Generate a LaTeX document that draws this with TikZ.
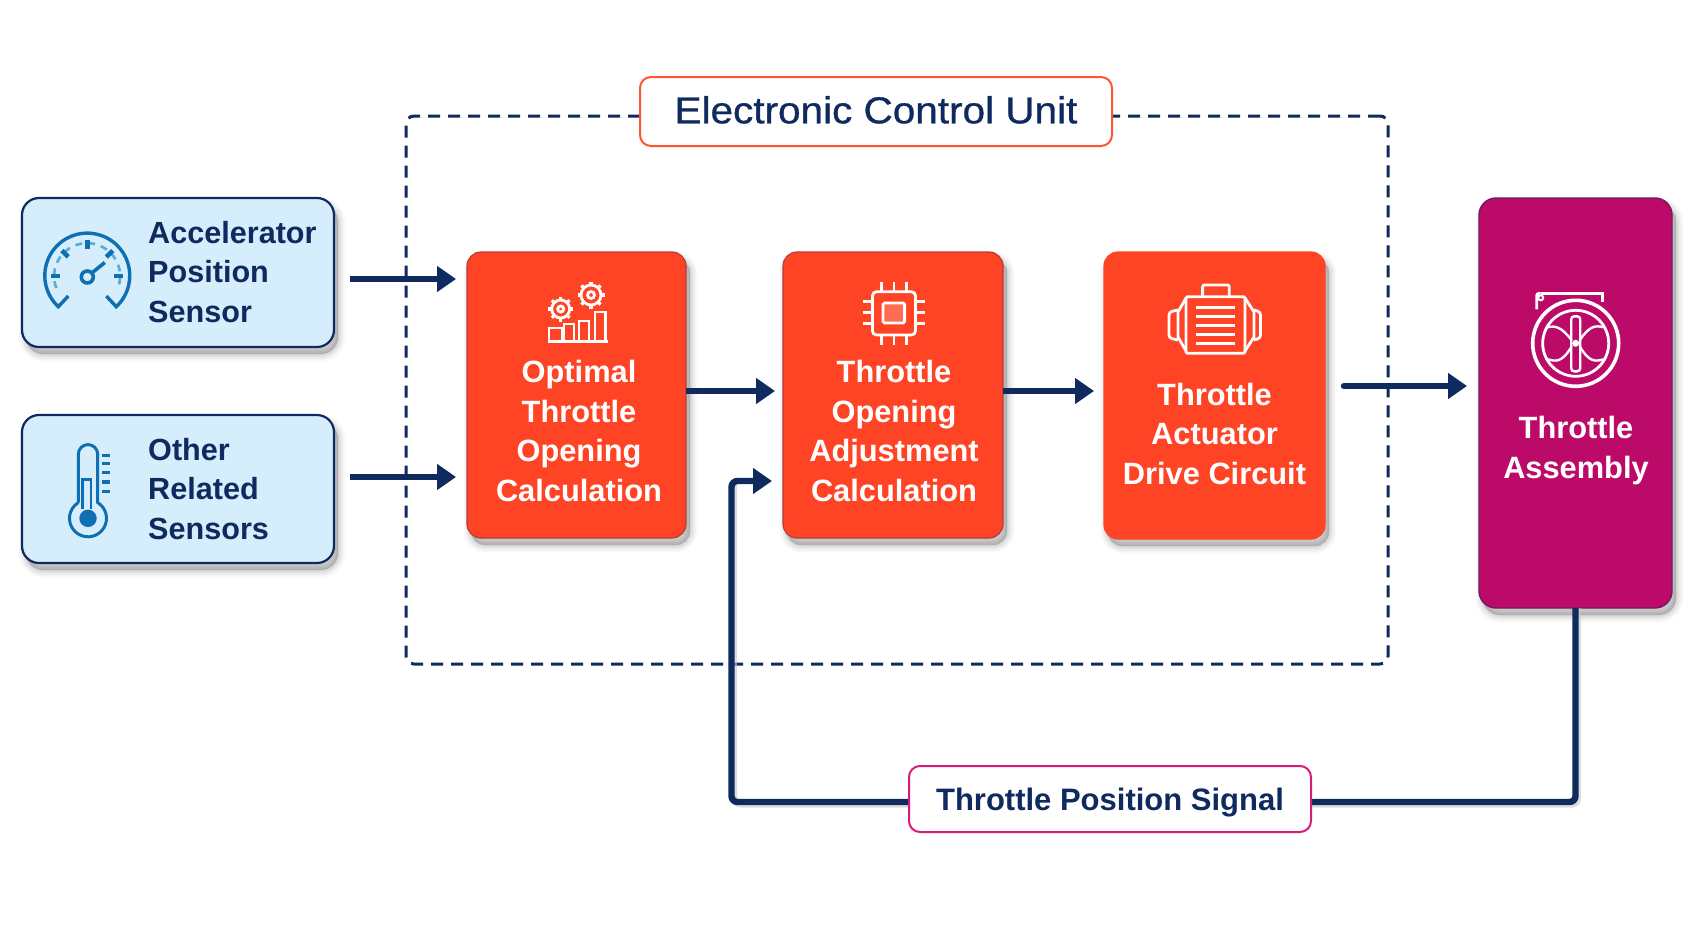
\documentclass[tikz,border=0pt]{standalone}
\usepackage{fontspec}
\setmainfont{Liberation Sans}
\newfontfamily\ecufont[FakeBold=0.8,FakeStretch=1.08]{Liberation Sans}
\usetikzlibrary{arrows.meta,shadows,calc}
\definecolor{navy}{HTML}{0F2A5F}
\definecolor{skyfill}{HTML}{D6EEFB}
\definecolor{iconblue}{HTML}{0E6FB2}
\definecolor{iconlight}{HTML}{5BAAD8}
\definecolor{redbox}{HTML}{FF4325}
\definecolor{magbox}{HTML}{BB0A68}
\definecolor{eculine}{HTML}{FF5533}
\definecolor{tpsline}{HTML}{D81B78}
\tikzset{
  softshadow/.style={
    general shadow={fill=black,draw=black,line width=15pt,opacity=.02,shadow xshift=4pt,shadow yshift=-7pt},
    general shadow={fill=black,draw=black,line width=12pt,opacity=.025,shadow xshift=4pt,shadow yshift=-7pt},
    general shadow={fill=black,draw=black,line width=9pt,opacity=.03,shadow xshift=4pt,shadow yshift=-7pt},
    general shadow={fill=black,draw=black,line width=6pt,opacity=.035,shadow xshift=4pt,shadow yshift=-7pt},
    general shadow={fill=black,draw=black,line width=3pt,opacity=.04,shadow xshift=4pt,shadow yshift=-7pt},
    general shadow={fill=black,draw=black,line width=.5pt,opacity=.04,shadow xshift=4pt,shadow yshift=-7pt}},
  boxbase/.style={rounded corners=#1,inner sep=0pt,outer sep=0pt,softshadow},
  sensorbox/.style={boxbase=17pt,fill=skyfill,draw=navy,line width=2.2pt},
  redblock/.style={boxbase=14pt,fill=redbox,draw=redbox!70!navy,line width=1.2pt},
  magblock/.style={boxbase=17pt,fill=magbox,draw=magbox!60!navy,line width=1.4pt},
  tagbox/.style={rounded corners=11pt,fill=white,line width=2pt,inner sep=0pt},
  conn/.style={draw=navy,line width=6.4pt,-{Triangle[length=19pt,width=25pt]}},
  sensortext/.style={font=\fontsize{30.6}{39.5}\selectfont\bfseries,text=navy,align=left,anchor=base west,inner sep=0pt},
  whitetext/.style={font=\fontsize{30.8}{39.5}\selectfont\bfseries,text=white,align=center,anchor=base,inner sep=0pt},
  iconb/.style={draw=iconblue,line width=3pt},
  iconw/.style={draw=white,line width=2.8pt},
}
\begin{document}
\begin{tikzpicture}[x=1pt,y=-1pt]
\useasboundingbox (0,0) rectangle (1698,926);
\fill[white] (0,0) rectangle (1698,926);
% levels of connectors
\coordinate (ya) at (0,279);
\coordinate (yb) at (0,477);
\coordinate (yc) at (0,391);
\coordinate (yd) at (0,386);
\coordinate (ye) at (0,481);
\coordinate (yf) at (0,802);
\coordinate (xf) at (731.5,0);
% ECU frame
\node[draw=navy,line width=3pt,dash pattern=on 12pt off 8pt,rounded corners=8pt,minimum width=982pt,minimum height=548pt,inner sep=0pt] (ecu) at (897,390) {};
% boxes
\node[sensorbox,minimum width=312pt,minimum height=149pt] (s1) at (178,272.5) {};
\node[sensorbox,minimum width=312pt,minimum height=148pt] (s2) at (178,489) {};
\node[redblock,minimum width=219pt,minimum height=286pt] (o1) at (576.5,395) {};
\node[redblock,minimum width=220pt,minimum height=286pt] (o2) at (893,395) {};
\node[redblock,draw=redbox,minimum width=221pt,minimum height=287pt] (o3) at (1214.5,395.5) {};
\node[magblock,minimum width=193pt,minimum height=410pt] (m) at (1575.5,403) {};
% connectors
\draw[conn,shorten <=16pt,shorten >=11pt] (s1.east |- ya) -- (o1.west |- ya);
\draw[conn,shorten <=16pt,shorten >=11pt] (s2.east |- yb) -- (o1.west |- yb);
\draw[conn,shorten >=8pt] (o1.east |- yc) -- (o2.west |- yc);
\draw[conn,shorten >=10pt] (o2.east |- yc) -- (o3.west |- yc);
\draw[conn,line cap=round,shorten <=19pt,shorten >=12pt] (o3.east |- yd) -- (m.west |- yd);
\draw[draw=black!22,line width=5pt,rounded corners=6pt,opacity=.6] ([xshift=3pt]m.south) -- ([xshift=3pt,yshift=-3pt]m.south |- yf) -- ([xshift=3pt,yshift=-3pt]xf |- yf) -- ([xshift=3pt]xf |- ye);
\draw[conn,rounded corners=6pt,shorten >=11pt] (m.south) -- (m.south |- yf) -- (xf |- yf) -- (xf |- ye) -- (o2.west |- ye);
% tags
\node[tagbox,draw=eculine,minimum width=472pt,minimum height=69pt,text height=29.6pt,text depth=6pt,font=\ecufont\fontsize{37.5}{42}\selectfont,text=navy] (ecutag) at (876,111.5) {Electronic Control Unit};
\node[tagbox,draw=tpsline,minimum width=402pt,minimum height=66pt,text height=28pt,text depth=6pt,font=\fontsize{31}{36}\selectfont\bfseries,text=navy] (tps) at (1110,799) {Throttle Position Signal};
% texts
\node[sensortext] (s1t) at (148,322) {Accelerator\\Position\\Sensor};
\node[sensortext] (s2t) at (148,539) {Other\\Related\\Sensors};
\node[whitetext] (o1t) at (579,501) {Optimal\\Throttle\\Opening\\Calculation};
\node[whitetext] (o2t) at (894,501) {Throttle\\Opening\\Adjustment\\Calculation};
\node[whitetext] (o3t) at (1214.5,484) {Throttle\\Actuator\\Drive Circuit};
\node[whitetext] (mt) at (1576,478) {Throttle\\Assembly};
% gauge icon
\begin{scope}[shift={(87.3,276)},y=1pt]
  \draw[iconb,line width=3.4pt] (-19,-20) -- (-29,-30.7) arc[start angle=227,end angle=-47,radius=42.5] -- (19,-20);
  \draw[iconlight,line width=2.6pt,dash pattern=on 7pt off 6pt] (-31,-12) arc[start angle=201,end angle=-21,radius=33];
  \foreach \a in {0,45,90,135,180}
    \draw[iconb,line width=4.6pt] (\a:27) -- (\a:36);
  \draw[iconb,line width=3.6pt] (0,-1) circle[radius=6];
  \draw[iconb,line width=3.6pt] (4.5,3) -- (17.5,13.5);
\end{scope}
% thermometer icon
\begin{scope}[shift={(88,518.3)},y=1pt]
  \draw[iconb] (-9.7,15.75) -- (-9.7,64) arc[start angle=180,end angle=0,radius=9.7] -- (9.7,15.75) arc[start angle=58.4,end angle=-238.4,radius=18.5];
  \draw[iconb,line width=2.4pt] (-5.7,9) -- (-5.7,39) -- (2.7,39) -- (2.7,9);
  \fill[iconblue] (0,0) circle[radius=8.7];
  \foreach \y in {63,55,46,36.5,27}
    \draw[iconb,line width=3.6pt] (13.7,\y) -- (22,\y);
\end{scope}
% gears and bars icon
\begin{scope}[every path/.style={iconw}]
  \foreach \cx/\cy/\r in {591/295/10,560.7/309/9} {
    \draw (\cx,\cy) circle[radius=\r];
    \foreach \a in {0,45,...,315}
      \draw[line width=3.2pt] ($(\cx,\cy)+(\a:\r)$) -- ($(\cx,\cy)+(\a:\r+3.5)$);
  }
  \draw (591,295) circle[radius=3.5];
  \draw (560.7,309) circle[radius=3];
  \draw (547.5,341.7) -- (608,341.7);
  \draw (549,341.7) rectangle (562,328);
  \draw (564,341.7) -- (564,324) -- (574,324) -- (574,341.7);
  \draw (579,341.7) rectangle (589,321);
  \draw (595,341.7) rectangle (605.7,312);
\end{scope}
% chip icon
\begin{scope}[every path/.style={iconw}]
  \draw[rounded corners=4pt] (872.5,291.7) rectangle (915.4,335);
  \draw[rounded corners=1.5pt,fill=white,fill opacity=.22] (883,303) rectangle (904.6,323);
  \foreach \x in {881.4,894,906.4} {
    \draw (\x,281.7) -- (\x,291.7);
    \draw (\x,335) -- (\x,345);
  }
  \foreach \y in {301.7,312.7,323.3} {
    \draw (862.9,\y) -- (872.5,\y);
    \draw (915.4,\y) -- (925,\y);
  }
\end{scope}
% motor icon
\begin{scope}[every path/.style={iconw}]
  \draw[rounded corners=1.5pt] (1186,296.7) rectangle (1245,353.3);
  \draw[rounded corners=2pt] (1202.6,296.7) -- (1202.6,285) -- (1229.3,285) -- (1229.3,296.7);
  \foreach \y in {307.3,316.7,325.7,334.3,343.3}
    \draw (1196,\y) -- (1235,\y);
  \draw (1245,298) -- (1254,312) -- (1254,337) -- (1245,351);
  \draw (1186,298) -- (1178,312) -- (1178,337) -- (1186,351);
  \draw[rounded corners=3pt] (1254,310) -- (1260.5,312) -- (1260.5,338) -- (1254,340);
  \draw[rounded corners=3pt] (1178,310) -- (1169,312) -- (1169,338) -- (1178,340);
\end{scope}
% throttle icon
\begin{scope}[shift={(1575.7,343.3)},y=1pt,every path/.style={draw=white,line width=3.6pt}]
  \draw (0,0) circle[radius=43];
  \draw[line width=2.8pt] (0,0) circle[radius=33];
  \draw[line width=2.4pt,rounded corners=3pt] (-4.5,-28) rectangle (4.5,27);
  \draw[line width=2.4pt] (-4,3) .. controls (-14,16) and (-20,18) .. (-28,16);
  \draw[line width=2.4pt] (-4,-3) .. controls (-14,-20) and (-20,-18) .. (-28,-16);
  \draw[line width=2.4pt] (4,3) .. controls (14,18) and (20,18) .. (28,16);
  \draw[line width=2.4pt] (4,-3) .. controls (14,-20) and (20,-18) .. (28,-16);
  \fill[white,draw=none] (0,0) circle[radius=3.5];
  \draw[line width=2.6pt] (-35,50) -- (27,50) -- (27,41);
  \draw[line width=2.6pt,rounded corners=2pt] (-35,50) -- (-39,50) -- (-39,34);
  \draw[line width=2pt] (-35,45.5) circle[radius=2.5];
\end{scope}
\end{tikzpicture}
\end{document}
